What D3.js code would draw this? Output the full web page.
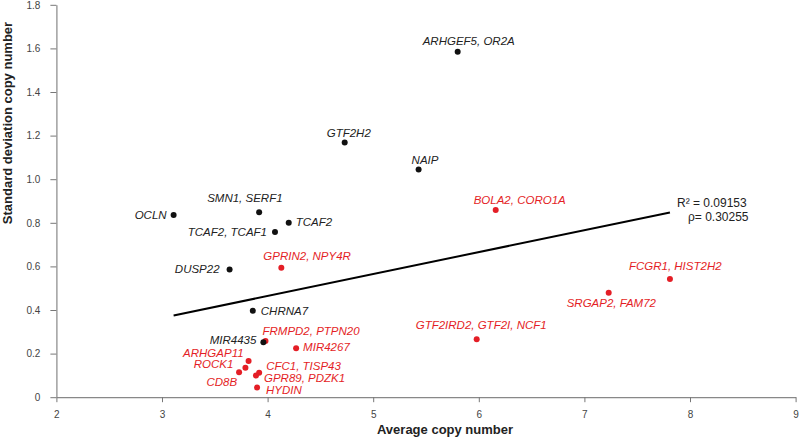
<!DOCTYPE html>
<html lang="en">
	<head>
		<meta charset="utf-8">
		<title>Copy number variability</title>
		<script type="text/javascript" src="https://cdn.jsdelivr.net/npm/d3@7"></script>
		<style type="text/css">
			body { margin: 0; background: #fff; }
			svg { display: block; font-family: "Liberation Sans", Arial, Helvetica, sans-serif; }
		</style>
	</head>
	<body>
		<script type="text/javascript">

			//Width and height
			var w = 800;
			var h = 441;

			//Data
			var genes = ["ARHGEF5, OR2A", "GTF2H2", "NAIP", "OCLN", "SMN1, SERF1", "TCAF2",
						 "TCAF2, TCAF1", "DUSP22", "CHRNA7", "FRMPD2, PTPN20", "MIR4435",
						 "GPRIN2, NPY4R", "BOLA2, CORO1A", "FCGR1, HIST2H2", "SRGAP2, FAM72",
						 "GTF2IRD2, GTF2I, NCF1", "MIR4267", "ARHGAP11", "ROCK1", "CD8B",
						 "CFC1, TISP43", "GPR89, PDZK1", "HYDIN"];
			var avgCopy = [5.80, 4.73, 5.43, 3.11, 3.92, 4.20,
						   4.07, 3.64, 3.86, 3.98, 3.96,
						   4.13, 6.16, 7.81, 7.23,
						   5.98, 4.27, 3.82, 3.79, 3.73,
						   3.92, 3.89, 3.90];
			var sdCopy = [1.585, 1.168, 1.044, 0.836, 0.848, 0.80,
						  0.758, 0.586, 0.396, 0.258, 0.252,
						  0.594, 0.859, 0.542, 0.479,
						  0.266, 0.225, 0.166, 0.135, 0.114,
						  0.112, 0.099, 0.044];
			var highlighted = [false, false, false, false, false, false,
							   false, false, false, true, false,
							   true, true, true, true,
							   true, true, true, true, true,
							   true, true, true];

			//Linear fit shown in the chart
			var fitSlope = 0.1006;
			var fitIntercept = 0.062;
			var fitStats = ["R\u00B2 = 0.09153", "\u03C1= 0.30255"];

			//Tick values
			var xTicks = [2, 3, 4, 5, 6, 7, 8, 9];
			var yTicks = [0, 0.2, 0.4, 0.6, 0.8, 1.0, 1.2, 1.4, 1.6, 1.8];

			//Label placement relative to each point: dx, dy, anchor
			var labelLayout = [[-35, -7, "start"], [-18, -6, "start"], [-7, -6, "start"],
							   [-7, 4, "end"], [-52, -10, "start"], [7, 3, "start"],
							   [-8, 4, "end"], [-10, 4, "end"], [8, 4, "start"],
							   [-3, -6, "start"], [-7, 2, "end"],
							   [-18, -8, "start"], [-22, -6, "start"], [-41, -9, "start"],
							   [-42, 14, "start"], [-61, -10, "start"], [7, 3, "start"],
							   [-5, -4, "end"], [-12, 0, "end"], [-2, 14, "end"],
							   [7, -3, "start"], [8, 6, "start"], [9, 6, "start"]];

			var black = "#111111";
			var red = "#e41e26";

			var dataset = genes.map(function(g, i) {
				return { gene: g, x: avgCopy[i], y: sdCopy[i], hi: highlighted[i], lay: labelLayout[i] };
			});

			//Scales
			var xScale = d3.scaleLinear()
							.domain([2, 9])
							.range([56.4, 795.6]);

			var yScale = d3.scaleLinear()
							.domain([0, 1.8])
							.range([397.2, 4.8]);

			var svg = d3.select("body")
						.append("svg")
						.attr("width", w)
						.attr("height", h);

			//Axes
			var xAxis = d3.axisBottom(xScale)
							.tickValues(xTicks)
							.tickFormat(d3.format("d"))
							.tickSizeInner(5)
							.tickSizeOuter(0)
							.tickPadding(9);

			var yAxis = d3.axisLeft(yScale)
							.tickValues(yTicks)
							.tickFormat(function(d) { return d === 0 ? "0" : d3.format(".1f")(d); })
							.tickSizeInner(6)
							.tickSizeOuter(0)
							.tickPadding(10);

			var gx = svg.append("g")
						.attr("transform", "translate(0," + yScale(0) + ")")
						.call(xAxis);

			var gy = svg.append("g")
						.attr("transform", "translate(" + xScale(2) + ",0)")
						.call(yAxis);

			[gx, gy].forEach(function(g) {
				g.select(".domain").attr("stroke", "#888").attr("stroke-width", 1.2);
				g.selectAll(".tick line").attr("stroke", "#777");
				g.selectAll(".tick text")
				 .attr("fill", "#444")
				 .attr("font-size", "10px")
				 .attr("font-family", "\"Liberation Sans\", Arial, sans-serif");
			});

			//Axis titles
			svg.append("text")
			   .attr("x", 445)
			   .attr("y", 434)
			   .attr("text-anchor", "middle")
			   .attr("font-size", "13px")
			   .attr("font-weight", "bold")
			   .attr("fill", "#222")
			   .text("Average copy number");

			svg.append("text")
			   .attr("transform", "translate(12,123) rotate(-90)")
			   .attr("text-anchor", "middle")
			   .attr("font-size", "13px")
			   .attr("font-weight", "bold")
			   .attr("fill", "#222")
			   .text("Standard deviation copy number");

			//Regression line across the data range
			var xExtent = d3.extent(avgCopy);
			svg.append("line")
			   .attr("x1", xScale(xExtent[0]))
			   .attr("y1", yScale(fitIntercept + fitSlope * xExtent[0]))
			   .attr("x2", xScale(xExtent[1]))
			   .attr("y2", yScale(fitIntercept + fitSlope * xExtent[1]))
			   .attr("stroke", "#000")
			   .attr("stroke-width", 2);

			svg.selectAll("text.stat")
			   .data(fitStats)
			   .enter()
			   .append("text")
			   .attr("class", "stat")
			   .attr("x", function(d, i) { return i === 0 ? 677 : 688; })
			   .attr("y", function(d, i) { return 207 + i * 13.5; })
			   .attr("font-size", "12px")
			   .attr("fill", "#222")
			   .text(function(d) { return d; });

			//Points
			svg.selectAll("circle")
			   .data(dataset)
			   .enter()
			   .append("circle")
			   .attr("cx", function(d) { return xScale(d.x); })
			   .attr("cy", function(d) { return yScale(d.y); })
			   .attr("r", 3)
			   .attr("fill", function(d) { return d.hi ? red : black; });

			//Labels
			svg.selectAll("text.gene")
			   .data(dataset)
			   .enter()
			   .append("text")
			   .attr("class", "gene")
			   .attr("x", function(d) { return xScale(d.x) + d.lay[0]; })
			   .attr("y", function(d) { return yScale(d.y) + d.lay[1]; })
			   .attr("text-anchor", function(d) { return d.lay[2]; })
			   .attr("font-size", "11.5px")
			   .attr("font-style", "italic")
			   .attr("fill", function(d) { return d.hi ? red : "#222"; })
			   .text(function(d) { return d.gene; });

		</script>
	</body>
</html>
